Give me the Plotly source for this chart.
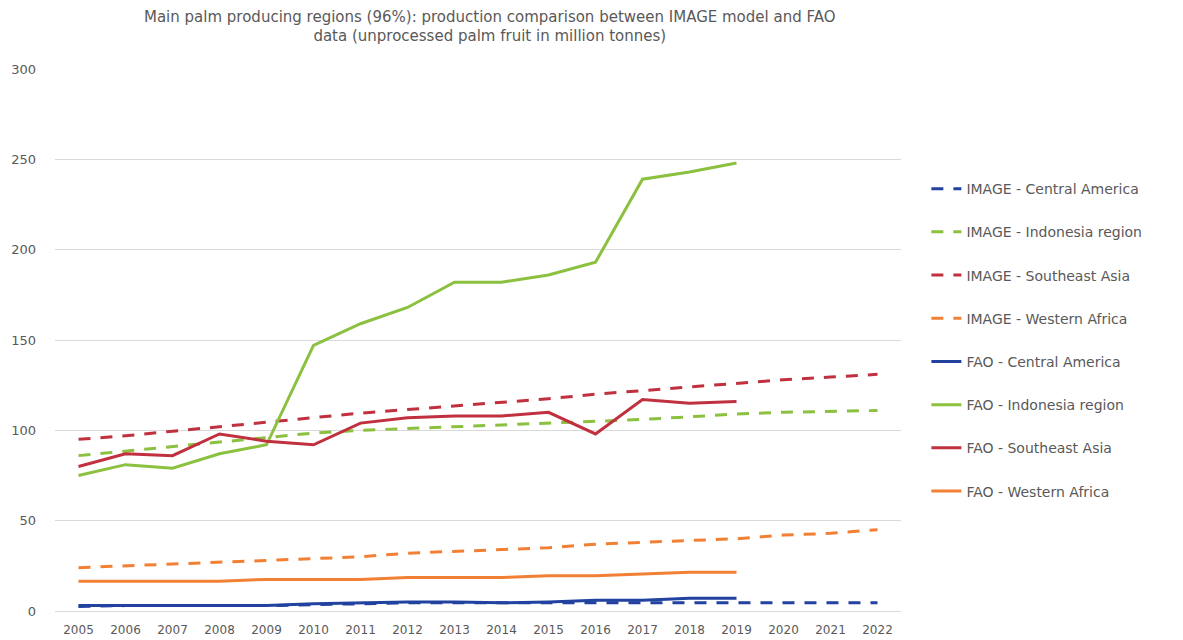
import plotly.graph_objects as go

years = [str(y) for y in range(2005, 2023)]
fao_years = [str(y) for y in range(2005, 2020)]

image_central_america = [2.5, 3, 3, 3, 3, 3.5, 4, 4.5, 4.5, 4.5, 4.5, 4.5, 4.5, 4.5, 4.5, 4.5, 4.5, 4.5]
image_indonesia = [86, 88.5, 91, 93.5, 96, 98.5, 100, 101, 102, 103, 104, 105, 106, 107.5, 109, 110, 110.5, 111]
image_se_asia = [95, 97, 99.5, 102, 104.5, 107, 109.5, 111.5, 113.5, 115.5, 117.5, 120, 122, 124, 126, 128, 129.5, 131]
image_w_africa = [24, 25, 26, 27, 28, 29, 30, 32, 33, 34, 35, 37, 38, 39, 40, 42, 43, 45]

fao_central_america = [3, 3, 3, 3, 3, 4, 4.5, 5, 5, 4.5, 5, 6, 6, 7, 7]
fao_indonesia = [75, 81, 79, 87, 92, 147, 159, 168, 182, 182, 186, 193, 239, 243, 248]
fao_se_asia = [80, 87, 86, 98, 94, 92, 104, 107, 108, 108, 110, 98, 117, 115, 116]
fao_w_africa = [16.5, 16.5, 16.5, 16.5, 17.5, 17.5, 17.5, 18.5, 18.5, 18.5, 19.5, 19.5, 20.5, 21.5, 21.5]

BLUE = "#2242A0"
GREEN = "#8CC03F"
RED = "#C0303F"
ORANGE = "#F28034"
TXT = "#595959"

series = [
    ("IMAGE - Central America", years, image_central_america, BLUE, "12px,10px"),
    ("IMAGE - Indonesia region", years, image_indonesia, GREEN, "12px,10px"),
    ("IMAGE - Southeast Asia", years, image_se_asia, RED, "12px,10px"),
    ("IMAGE - Western Africa", years, image_w_africa, ORANGE, "12px,10px"),
    ("FAO - Central America", fao_years, fao_central_america, BLUE, "solid"),
    ("FAO - Indonesia region", fao_years, fao_indonesia, GREEN, "solid"),
    ("FAO - Southeast Asia", fao_years, fao_se_asia, RED, "solid"),
    ("FAO - Western Africa", fao_years, fao_w_africa, ORANGE, "solid"),
]

fig = go.Figure()
for i, (name, xs, ys, col, dash) in enumerate(series):
    fig.add_trace(go.Scatter(
        x=xs, y=ys, name=name, mode="lines",
        line=dict(color=col, width=3, dash=dash),
        legendgroup=f"g{i}",
    ))

fig.update_layout(
    width=1183, height=640,
    plot_bgcolor="white", paper_bgcolor="white",
    font=dict(family="DejaVu Sans", size=13, color=TXT),
    title=dict(
        text="Main palm producing regions (96%): production comparison between IMAGE model and FAO<br>data (unprocessed palm fruit in million tonnes)",
        x=0.414, xanchor="center", y=0.966, yanchor="top",
        font=dict(family="DejaVu Sans", size=15, color=TXT),
    ),
    margin=dict(l=55, r=282, t=69, b=29),
    showlegend=True,
    legend=dict(
        x=1.03, xanchor="left", y=0.808, yanchor="top",
        tracegroupgap=22,
        font=dict(family="DejaVu Sans", size=14, color=TXT),
        bgcolor="rgba(0,0,0,0)",
    ),
    xaxis=dict(
        type="category", categoryorder="array", categoryarray=years,
        range=[-0.5, 17.5],
        showgrid=False, showline=False, zeroline=False,
        ticks="", tickfont=dict(size=12, color=TXT),
        ticklabelstandoff=10, automargin=False,
    ),
    yaxis=dict(
        range=[0, 300], dtick=50,
        showgrid=True, gridcolor="#D9D9D9", gridwidth=1,
        zeroline=True, zerolinecolor="#D9D9D9", zerolinewidth=1,
        showline=False, ticks="", ticklabelstandoff=18,
        tickfont=dict(size=13, color=TXT), automargin=False,
    ),
)

fig.write_html("out.html")
